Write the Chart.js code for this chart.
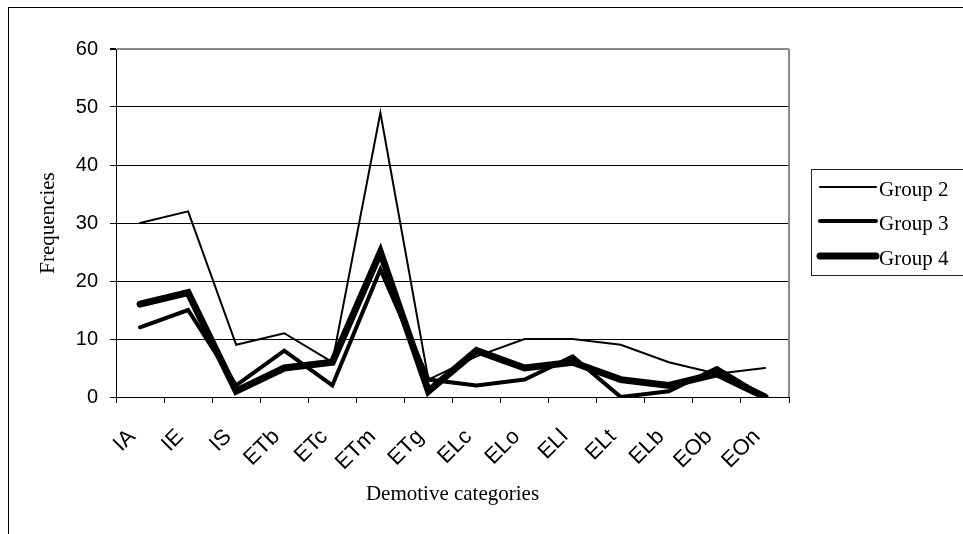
<!DOCTYPE html>
<html>
<head>
<meta charset="utf-8">
<script src="https://cdn.jsdelivr.net/npm/chart.js@4/dist/chart.umd.min.js"></script>
<style>
  html, body { margin: 0; padding: 0; background: #fff; }
  canvas { display: block; }
</style>
</head>
<body>
<canvas id="chart" width="963" height="534"></canvas>
<script>
// Demotive categories and frequencies per group
const categories = ['IA', 'IE', 'IS', 'ETb', 'ETc', 'ETm', 'ETg', 'ELc', 'ELo', 'ELl', 'ELt', 'ELb', 'EOb', 'EOn'];
const group2 = [30, 32, 9, 11, 6, 49, 3, 7, 10, 10, 9, 6, 4, 5];
const group3 = [12, 15, 2, 8, 2, 22, 3, 2, 3, 7, 0, 1, 5, 0];
const group4 = [16, 18, 1, 5, 6, 25, 1, 8, 5, 6, 3, 2, 4, 0];
const seriesNames = ['Group 2', 'Group 3', 'Group 4'];
const yTicks = [0, 10, 20, 30, 40, 50, 60];

const serifFont = '"Liberation Serif", "Times New Roman", serif';
const sansFont = '"Liberation Sans", Arial, sans-serif';

// White page with the outer frame
const framePlugin = {
  id: 'frame',
  beforeDraw(chart) {
    const ctx = chart.ctx;
    ctx.save();
    ctx.fillStyle = '#fff';
    ctx.fillRect(0, 0, chart.width, chart.height);
    ctx.strokeStyle = '#000';
    ctx.lineWidth = 1;
    ctx.strokeRect(8.5, 7.5, chart.width + 20, chart.height + 20);
    ctx.restore();
  },
  beforeDatasetsDraw(chart) {
    // grey right edge of the plot area
    const a = chart.chartArea;
    const ctx = chart.ctx;
    ctx.save();
    ctx.strokeStyle = '#8a8a8a';
    ctx.lineWidth = 2;
    ctx.beginPath();
    ctx.moveTo(a.right, a.top);
    ctx.lineTo(a.right, a.bottom);
    ctx.stroke();
    ctx.restore();
  }
};

// Boxed legend to the right of the plot
const boxLegend = {
  id: 'boxLegend',
  afterDraw(chart) {
    const ctx = chart.ctx;
    const x0 = 811.5, y0 = 169.5, h = 106;
    ctx.save();
    ctx.strokeStyle = '#222';
    ctx.lineWidth = 1;
    ctx.strokeRect(x0, y0, 200, h);
    const rows = [187, 221, 256];
    chart.data.datasets.forEach((ds, i) => {
      const y = rows[i];
      ctx.strokeStyle = ds.borderColor;
      ctx.lineWidth = ds.borderWidth;
      ctx.lineCap = 'round';
      ctx.beginPath();
      ctx.moveTo(820, y);
      ctx.lineTo(876, y);
      ctx.stroke();
      ctx.fillStyle = '#000';
      ctx.font = '21px ' + serifFont;
      ctx.textBaseline = 'middle';
      ctx.textAlign = 'left';
      ctx.fillText(ds.label, 879, y + 3);
    });
    ctx.restore();
  }
};

const widths = [2, 4, 7];
const values = [group2, group3, group4];

new Chart(document.getElementById('chart'), {
  type: 'line',
  data: {
    labels: categories,
    datasets: values.map((v, i) => ({
      label: seriesNames[i],
      data: v,
      borderColor: '#000',
      backgroundColor: '#000',
      borderWidth: widths[i],
      pointRadius: 0,
      tension: 0,
      fill: false,
      borderCapStyle: 'round',
      borderJoinStyle: 'miter'
    }))
  },
  options: {
    responsive: false,
    devicePixelRatio: 1,
    animation: false,
    layout: { padding: { left: 0, top: 49, right: 174, bottom: 0 } },
    plugins: {
      legend: { display: false },
      tooltip: { enabled: false }
    },
    scales: {
      x: {
        type: 'category',
        offset: true,
        afterFit(scale) { scale.height = 137; },
        grid: {
          display: true,
          offset: true,
          drawOnChartArea: false,
          drawTicks: true,
          tickLength: 6,
          color: '#000',
          lineWidth: 1
        },
        border: { display: true, color: '#000', width: 1 },
        ticks: {
          autoSkip: false,
          maxRotation: 45,
          minRotation: 45,
          padding: 21,
          labelOffset: -8,
          color: '#000',
          font: { family: sansFont, size: 22 }
        },
        title: {
          display: true,
          text: 'Demotive categories',
          color: '#000',
          font: { family: serifFont, size: 21 },
          padding: { top: 0, bottom: 27 }
        }
      },
      y: {
        min: 0,
        max: 60,
        afterFit(scale) { scale.width = 116; },
        afterBuildTicks(scale) { scale.ticks = yTicks.map(v => ({ value: v })); },
        grid: {
          color: ctx => (ctx.tick && ctx.tick.value === 60) ? '#8a8a8a' : '#000',
          lineWidth: ctx => (ctx.tick && ctx.tick.value === 60) ? 2 : 1,
          tickColor: '#000',
          tickLength: 6,
          drawTicks: true
        },
        border: { display: true, color: '#000', width: 1 },
        ticks: {
          padding: 12,
          color: '#000',
          font: { family: sansFont, size: 20 }
        },
        title: {
          display: true,
          text: 'Frequencies',
          color: '#000',
          font: { family: serifFont, size: 21 },
          padding: { top: 36, bottom: 0 }
        }
      }
    }
  },
  plugins: [framePlugin, boxLegend]
});
</script>
</body>
</html>
